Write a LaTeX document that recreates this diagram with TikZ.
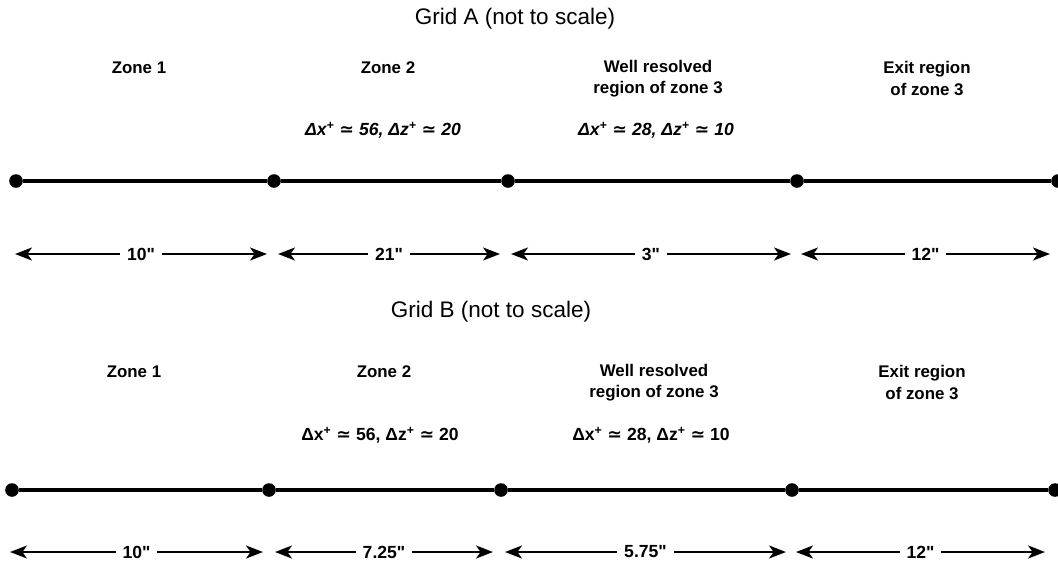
\documentclass[tikz,border=0pt]{standalone}
\usepackage{fontspec}
\setmainfont{Liberation Sans}
\newfontfamily\symfont{DejaVu Sans}
\usetikzlibrary{arrows.meta, positioning}
\tikzset{
  % Grid title
  gridtitle/.style={
    font=\fontsize{16}{18}\selectfont, inner sep=0pt
  },
  % Zone name above the line
  zonelabel/.style={
    font=\fontsize{12}{15}\selectfont\bfseries,
    align=center, inner sep=0pt
  },
  % Grid spacing (wall units)
  spacing/.style={
    font=\fontsize{12.5}{15}\selectfont\bfseries, inner sep=0pt
  },
  % Zone boundary dot
  griddot/.style={
    circle, fill=black, inner sep=0pt, minimum size=0.34cm
  },
  % Streamwise line
  zoneline/.style={
    line width=2.6pt
  },
  % Zone length arrow
  lengtharrow/.style={
    <->, >={Stealth[length=4.2mm, width=3.2mm, inset=1.1mm]}, line width=2pt
  },
  % Zone length label
  lengthlabel/.style={
    fill=white, font=\fontsize{12.5}{15}\selectfont\bfseries,
    inner xsep=5pt, inner ysep=0pt
  }
}
\newcommand{\Simeq}{{\symfont ≃}}
\newcommand{\Inch}[1]{#1\textquotedbl}
\newcommand{\GridDot}[3]{
  \node[griddot] (#1) at (#2,#3) {};
}
\newcommand{\LengthArrow}[5]{
  \coordinate (#1_l) at (#2,#4);
  \coordinate (#1_r) at (#3,#4);
  \draw[lengtharrow] (#1_l) -- (#1_r) node[lengthlabel, midway] (#1_lab) {#5};
}

\begin{document}
\begin{tikzpicture}[x=0.025cm, y=-0.025cm]
  \useasboundingbox (0,0) rectangle (1058,560);

  % ── Grid A ────────────────────────────────────────────────────────────────
  \node[gridtitle] (titleA) at (515,19) {Grid A (not to scale)};

  % Zone names
  \node[zonelabel] (zA1) at (139,68) {Zone 1};
  \node[zonelabel] (zA2) at (388,68) {Zone 2};
  \node[zonelabel] (zA3) at (658,78.5) {Well resolved\\region of zone 3};
  \node[zonelabel] (zA4) at (927,78.5) {Exit region\\of zone 3};

  % Spacings
  \node[spacing] (resA2) at (383,130)
        {\itshape Δx\textsuperscript{+} \Simeq{} 56, Δz\textsuperscript{+} \Simeq{} 20};
  \node[spacing] (resA3) at (656,130)
        {\itshape Δx\textsuperscript{+} \Simeq{} 28, Δz\textsuperscript{+} \Simeq{} 10};

  % Zone boundaries
  \GridDot{dA1}{16}{181}
  \GridDot{dA2}{274}{181}
  \GridDot{dA3}{508}{181}
  \GridDot{dA4}{797}{181}
  \GridDot{dA5}{1058}{181}
  \draw[zoneline] (dA1) -- (dA2) -- (dA3) -- (dA4) -- (dA5);

  % Zone lengths
  \LengthArrow{lA1}{15}{267}{254}{\Inch{10}}
  \LengthArrow{lA2}{278}{500}{254}{\Inch{21}}
  \LengthArrow{lA3}{511}{791}{254}{\Inch{3}}
  \LengthArrow{lA4}{801}{1050}{254}{\Inch{12}}

  % ── Grid B ────────────────────────────────────────────────────────────────
  \node[gridtitle] (titleB) at (491,312) {Grid B (not to scale)};

  % Zone names
  \node[zonelabel] (zB1) at (134,372) {Zone 1};
  \node[zonelabel] (zB2) at (384,372) {Zone 2};
  \node[zonelabel] (zB3) at (654,382.5) {Well resolved\\region of zone 3};
  \node[zonelabel] (zB4) at (922,382.5) {Exit region\\of zone 3};

  % Spacings
  \node[spacing] (resB2) at (380,435)
        {Δx\textsuperscript{+} \Simeq{} 56, Δz\textsuperscript{+} \Simeq{} 20};
  \node[spacing] (resB3) at (651,435)
        {Δx\textsuperscript{+} \Simeq{} 28, Δz\textsuperscript{+} \Simeq{} 10};

  % Zone boundaries
  \GridDot{dB1}{12}{490}
  \GridDot{dB2}{269}{490}
  \GridDot{dB3}{501}{490}
  \GridDot{dB4}{792}{490}
  \GridDot{dB5}{1055}{490}
  \draw[zoneline] (dB1) -- (dB2) -- (dB3) -- (dB4) -- (dB5);

  % Zone lengths
  \LengthArrow{lB1}{10}{263}{552}{\Inch{10}}
  \LengthArrow{lB2}{275}{493}{552}{\Inch{7.25}}
  \LengthArrow{lB3}{505}{786}{552}{\Inch{5.75}}
  \LengthArrow{lB4}{796}{1045}{552}{\Inch{12}}

\end{tikzpicture}
\end{document}
